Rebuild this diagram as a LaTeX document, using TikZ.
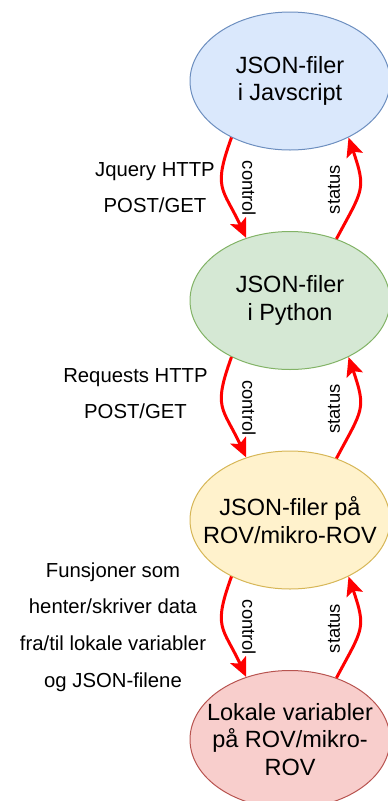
\documentclass[tikz,border=0pt]{standalone}
\usepackage{fontspec}
\setmainfont{Liberation Sans}
\usepackage{xcolor}
\usetikzlibrary{arrows.meta,positioning,shapes.geometric}

\definecolor{jsfill}{HTML}{DAE8FC}
\definecolor{jsline}{HTML}{6C8EBF}
\definecolor{pyfill}{HTML}{D5E8D4}
\definecolor{pyline}{HTML}{82B366}
\definecolor{rovfill}{HTML}{FFF2CC}
\definecolor{rovline}{HTML}{D6B656}
\definecolor{varfill}{HTML}{F8CECC}
\definecolor{varline}{HTML}{B85450}

\begin{document}
\begin{tikzpicture}[
    x=1pt, y=1pt,
    node distance=80.5pt,
    state/.style={
        ellipse,
        draw,
        line width=1pt,
        align=center,
        minimum width=200pt,
        minimum height=138pt,
        inner xsep=-25pt,
        inner ysep=0pt,
        font=\fontsize{23.5}{27.5}\selectfont
    },
    jsstate/.style={state, fill=jsfill, draw=jsline},
    pystate/.style={state, fill=pyfill, draw=pyline},
    rovstate/.style={state, fill=rovfill, draw=rovline},
    varstate/.style={state, fill=varfill, draw=varline},
    side/.style={align=center, font=\fontsize{20.3}{36.7}\selectfont},
    tag/.style={text=black, font=\fontsize{18.4}{20}\selectfont, inner sep=0pt},
    flow/.style={-{Stealth[length=19pt, width=17pt, inset=4pt]}, red, line width=3pt, looseness=1.4}
]
\useasboundingbox (0,0) rectangle (388,-801);

\node[jsstate] (js) at (290,-81) {JSON-filer\\i Javscript};
\node[pystate, below=of js] (py) {JSON-filer\\i Python};
\node[rovstate, below=of py] (rov) {JSON-filer på\\ROV/mikro-ROV};
\node[varstate, below=of rov] (vars) {Lokale variabler\\på ROV/mikro-\\ROV};

\draw[flow] (js.224) to[out=250, in=115] node[tag, xshift=26pt, rotate=-90] (ctl1) {control} (py.125);
\draw[flow] (py.53) to[out=62, in=-71] node[tag, xshift=-25pt, rotate=90] (st1) {status} (js.316);
\draw[flow] (py.224) to[out=250, in=115] node[tag, xshift=26pt, rotate=-90] (ctl2) {control} (rov.125);
\draw[flow] (rov.53) to[out=62, in=-71] node[tag, xshift=-25pt, rotate=90] (st2) {status} (py.316);
\draw[flow] (rov.224) to[out=250, in=115] node[tag, xshift=26pt, rotate=-90] (ctl3) {control} (vars.125);
\draw[flow] (vars.53) to[out=62, in=-71] node[tag, xshift=-25pt, rotate=90] (st3) {status} (rov.316);

\node[side] (jquery) at (155,-187.5) {Jquery HTTP\\POST/GET};
\node[side] (requests) at (135.5,-393.5) {Requests HTTP\\POST/GET};
\node[side] (funcs) at (113,-627) {Funsjoner som\\henter/skriver data\\fra/til lokale variabler\\og JSON-filene};
\end{tikzpicture}
\end{document}
